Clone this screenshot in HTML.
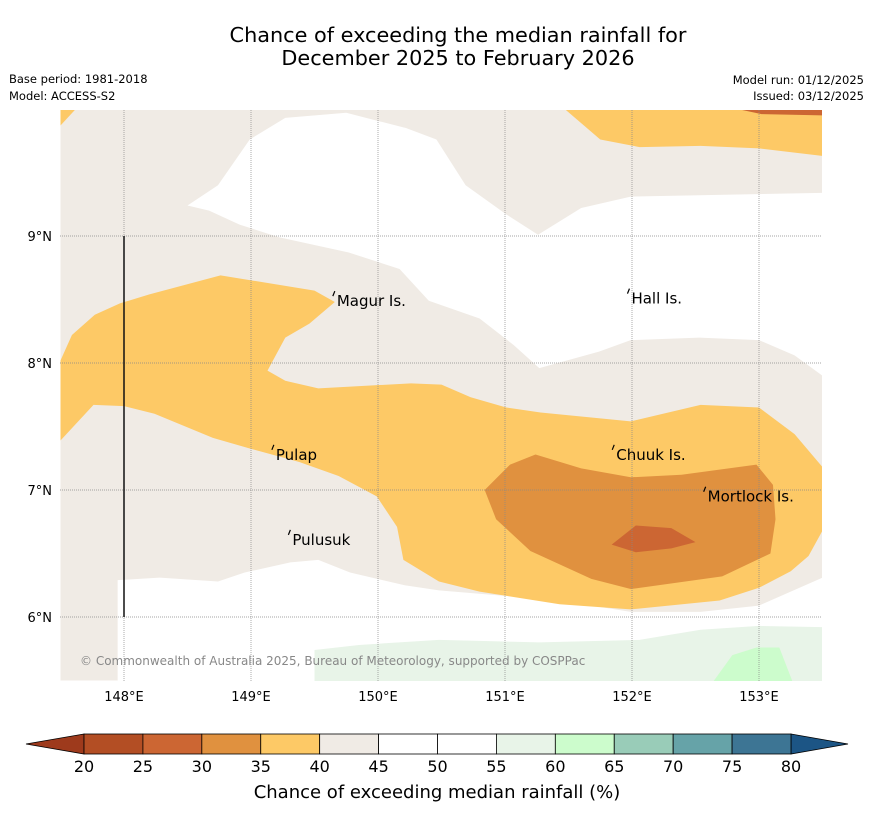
<!DOCTYPE html>
<html><head><meta charset="utf-8">
<style>
body{margin:0;background:#fff;font-family:"Liberation Sans","DejaVu Sans",sans-serif;}
svg{display:block}
</style></head>
<body>
<svg id="chart" width="873" height="816" viewBox="0 0 873 816" xmlns="http://www.w3.org/2000/svg" font-family="DejaVu Sans, Liberation Sans, sans-serif">
<text x="458" y="42" text-anchor="middle" font-size="20.8">Chance of exceeding the median rainfall for</text>
<text x="458" y="65" text-anchor="middle" font-size="20.8">December 2025 to February 2026</text>
<text x="9" y="83" font-size="11.5">Base period: 1981-2018</text>
<text x="9" y="100" font-size="11.5">Model: ACCESS-S2</text>
<text x="864" y="84" font-size="11.5" text-anchor="end">Model run: 01/12/2025</text>
<text x="864" y="100" font-size="11.5" text-anchor="end">Issued: 03/12/2025</text>
<defs><clipPath id="mapclip"><rect x="60" y="110" width="762" height="571"/></clipPath></defs>
<g id="map" clip-path="url(#mapclip)"></g>
<g id="cbar"></g>
<text x="437" y="798" text-anchor="middle" font-size="18">Chance of exceeding median rainfall (%)</text>
</svg>
<script>
const NS="http://www.w3.org/2000/svg";
// map extent / axes
const lonTicks=[148,149,150,151,152,153];
const latTicks=[9,8,7,6];
const levels=[20,25,30,35,40,45,50,55,60,65,70,75,80];
const levelColors=["#b34e24","#cc6633","#e0913f","#fdc966","#f0ebe5","#ffffff","#ffffff","#e8f4e8","#ccfccc","#99ccb8","#66a3a8","#3d7594"];
const underColor="#9e3a1c", overColor="#1c5585";
// contour regions [colour category, lon/lat points]
const regions=[
 {cat:40,pts:[[147.5,10],[153.5,10],[153.5,5.5],[147.5,5.5]]},
 {cat:45,pts:[[148.5,9.24],[148.74,9.4],[148.99,9.76],[149.27,9.93],[149.75,9.97],[150.22,9.85],[150.46,9.76],[150.69,9.4],[151.01,9.17],[151.26,9.01],[151.6,9.22],[151.99,9.31],[153.5,9.34],[153.5,7.9],[153.28,8.06],[153.0,8.18],[152.53,8.2],[151.99,8.18],[151.74,8.09],[151.27,7.96],[151.07,8.14],[150.8,8.35],[150.4,8.49],[150.17,8.74],[149.77,8.87],[149.22,8.99],[148.91,9.09],[148.67,9.2]]},
 {cat:45,pts:[[147.95,6.29],[148.28,6.31],[148.74,6.28],[148.95,6.35],[149.31,6.43],[149.53,6.45],[149.78,6.35],[150.21,6.25],[150.48,6.21],[151.43,6.13],[151.99,6.04],[152.54,6.04],[153.0,6.09],[153.5,6.31],[153.5,5.0],[147.95,5.0]]},
 {cat:55,pts:[[149.5,5.74],[149.85,5.78],[150.48,5.82],[151.27,5.8],[152.06,5.82],[152.54,5.9],[153.0,5.93],[153.5,5.92],[153.5,5.0],[149.5,5.0]]},
 {cat:60,pts:[[152.61,5.45],[152.79,5.7],[152.98,5.76],[153.16,5.76],[153.28,5.45]]},
 {cat:35,pts:[[147.5,8.02],[147.59,8.22],[147.77,8.38],[147.97,8.47],[148.2,8.54],[148.76,8.69],[149.5,8.57],[149.66,8.48],[149.46,8.31],[149.27,8.2],[149.13,7.94],[149.27,7.86],[149.53,7.8],[150.26,7.84],[150.5,7.83],[150.73,7.73],[151.01,7.65],[151.28,7.61],[151.99,7.54],[152.54,7.67],[153.0,7.65],[153.28,7.44],[153.5,7.18],[153.5,6.68],[153.39,6.48],[153.25,6.36],[153.0,6.23],[152.69,6.13],[151.99,6.06],[151.43,6.1],[150.8,6.2],[150.48,6.28],[150.2,6.45],[150.15,6.71],[149.99,6.95],[149.69,7.11],[149.38,7.22],[148.98,7.33],[148.7,7.41],[148.24,7.6],[148.0,7.66],[147.76,7.67],[147.5,7.39]]},
 {cat:35,pts:[[151.47,10],[151.75,9.76],[152.06,9.7],[152.54,9.71],[153.0,9.69],[153.5,9.63],[153.5,10]]},
 {cat:35,pts:[[147.5,10],[147.62,10],[147.5,9.87]]},
 {cat:30,pts:[[150.84,7.0],[151.04,7.2],[151.24,7.28],[151.6,7.17],[151.99,7.1],[152.39,7.12],[152.98,7.2],[153.11,7.04],[153.13,6.77],[153.09,6.5],[152.71,6.32],[151.99,6.22],[151.68,6.3],[151.2,6.52],[150.93,6.77]]},
 {cat:25,pts:[[151.84,6.57],[152.03,6.72],[152.31,6.7],[152.5,6.59],[152.31,6.54],[152.03,6.51]]},
 {cat:25,pts:[[152.83,10],[153.5,10],[153.5,9.95],[153.02,9.96]]}
];
// island labels
const islandNames=["Magur Is.","Hall Is.","Pulap","Chuuk Is.","Mortlock Is.","Pulusuk"];
const islandLon=[149.66,151.98,149.18,151.86,152.58,149.31];
const islandLat=[8.55,8.57,7.34,7.34,7.01,6.67];

const x0=124,y0=236,ppd=127;
const X=lon=>x0+(lon-148)*ppd;
const Y=lat=>y0+(9-lat)*ppd;
const colorFor=c=>levelColors[levels.indexOf(c)];

const map=document.getElementById('map');
function mk(tag,attrs,parent){const e=document.createElementNS(NS,tag);for(const k in attrs)e.setAttribute(k,attrs[k]);parent.appendChild(e);return e;}
regions.forEach((r,i)=>{
 const p=mk('polygon',{points:r.pts.map(q=>X(q[0])+','+Y(q[1])).join(' '),fill:colorFor(r.cat)},map);
 
 
});
lonTicks.forEach(l=>{
 const g=mk('line',{x1:X(l),x2:X(l),y1:110,y2:681,stroke:'#888','stroke-width':0.7,'stroke-dasharray':'1,1'},map);
 
 
});
latTicks.forEach(l=>{
 const g=mk('line',{x1:60,x2:822,y1:Y(l),y2:Y(l),stroke:'#888','stroke-width':0.7,'stroke-dasharray':'1,1'},map);
 
 
});
const vl=mk('line',{x1:X(148),x2:X(148),y1:Y(9),y2:Y(6),stroke:'#111','stroke-width':1.5},map);


const cr=mk('text',{x:80,y:665,'font-size':12,fill:'#888'},map);
cr.textContent="© Commonwealth of Australia 2025, Bureau of Meteorology, supported by COSPPac";


islandNames.forEach((n,i)=>{
 const d=mk('path',{d:`M${X(islandLon[i])-2},${Y(islandLat[i])+3} l2,-5`,stroke:'#000','stroke-width':1.2,fill:'none'},map);
 
 
 const t=mk('text',{x:X(islandLon[i])+2,y:Y(islandLat[i])+13,'font-size':15},map);
 t.textContent=n;
 
 
});
const svg=document.getElementById('chart');
lonTicks.forEach(l=>{
 const t=mk('text',{x:X(l),y:701,'font-size':13,'text-anchor':'middle'},svg);
 t.textContent=l+'°E';
 
 
});
latTicks.forEach(l=>{
 const t=mk('text',{x:52,y:Y(l)+5,'font-size':13,'text-anchor':'end'},svg);
 t.textContent=l+'°N';
 
 
});
// colorbar
const cb=document.getElementById('cbar');
const cx0=84,cx1=791,cy=734,ch=20;
const CX=v=>cx0+(v-levels[0])/(levels[levels.length-1]-levels[0])*(cx1-cx0);
const u=mk('polygon',{points:`${cx0},${cy} 26,${cy+ch/2} ${cx0},${cy+ch}`,fill:underColor,stroke:'#000','stroke-width':0.8},cb);


const o=mk('polygon',{points:`${cx1},${cy} 848,${cy+ch/2} ${cx1},${cy+ch}`,fill:overColor,stroke:'#000','stroke-width':0.8},cb);


levelColors.forEach((c,i)=>{
 const r=mk('rect',{x:CX(levels[i]),y:cy,width:CX(levels[i+1])-CX(levels[i]),height:ch,fill:c,stroke:'#000','stroke-width':0.8},cb);
 
 
});
levels.forEach(v=>{
 const t=mk('text',{x:CX(v),y:772,'font-size':16,'text-anchor':'middle'},cb);
 t.textContent=v;
 
 
});
</script>
</body></html>
